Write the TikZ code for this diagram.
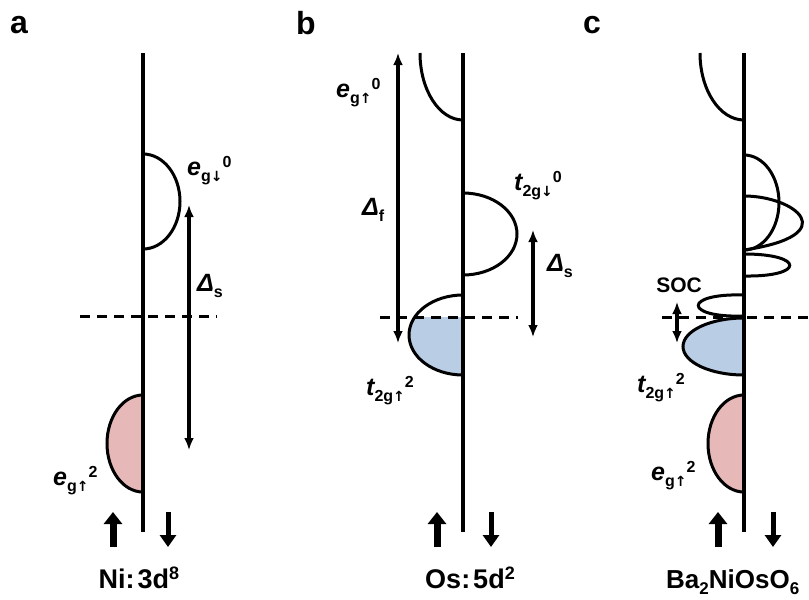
\documentclass[tikz,border=0pt]{standalone}
\usepackage{fontspec}
\setmainfont{Liberation Sans}
\newfontfamily\arrfont{DejaVu Sans}
\usetikzlibrary{arrows.meta}
\definecolor{pinkfill}{HTML}{E6B9B8}
\definecolor{bluefill}{HTML}{B9CDE5}
\newcommand{\sbx}[1]{\raisebox{-6pt}{\fontsize{16}{16}\selectfont\bfseries\upshape #1}}
\newcommand{\spx}[1]{\raisebox{8pt}{\fontsize{16}{16}\selectfont\bfseries\upshape #1}}
\newcommand{\ardn}{{\arrfont\bfseries\fontsize{14}{14}\selectfont ↓}}
\newcommand{\arup}{{\arrfont\bfseries\fontsize{14}{14}\selectfont ↑}}
\begin{document}
\begin{tikzpicture}[x=1pt,y=-1pt,
  axisline/.style={line width=4.5pt},
  band/.style={line width=3pt},
  gaparrow/.style={line width=3.5pt,{Latex[length=12pt,width=10pt]}-{Latex[length=12pt,width=10pt]}},
  fermi/.style={line width=3pt,dash pattern=on 10pt off 7pt},
  lab/.style={inner sep=0pt,anchor=base west,font=\fontsize{25}{25}\selectfont\bfseries\itshape},
  panel/.style={inner sep=0pt,font=\fontsize{32}{32}\selectfont\bfseries},
  title/.style={inner sep=0pt,anchor=base,font=\fontsize{27}{27}\selectfont\bfseries},
  spinup/.style={line width=7pt,-{Triangle[length=12pt,width=18pt]}},
  spindn/.style={line width=5pt,-{Triangle[length=12pt,width=16pt]}}]
\useasboundingbox (0,0) rectangle (809,600);
\clip (0,0) rectangle (809,600);
\fill[white] (0,0) rectangle (809,600);

% ---------------- panel a ----------------
\node[panel] (pa) at (19,25) {a};
\fill[pinkfill] (143,395) arc[start angle=270,end angle=90,x radius=36,y radius=48.5] -- cycle;
\draw[band] (143,395) arc[start angle=270,end angle=90,x radius=36,y radius=48.5];
\draw[band] (143,154) arc[start angle=-90,end angle=90,x radius=37,y radius=47.5];
\coordinate (fa1) at (80,316); \coordinate (fa2) at (217,316);
\draw[fermi] (fa1) -- (fa2);
\draw[axisline] (143,53) -- (143,532);
\coordinate (dsa1) at (189,205); \coordinate (dsa2) at (189,450);
\draw[gaparrow] (dsa1) -- (dsa2);
\node[lab] (la1) at (187,175) {e\sbx{g\ardn}\spx{0}};
\node[lab] (la2) at (197,291) {Δ\sbx{s}};
\node[lab] (la3) at (53,485) {e\sbx{g\arup}\spx{2}};
\coordinate (ua1) at (113,547); \coordinate (ua2) at (113,512);
\coordinate (da1) at (168,512); \coordinate (da2) at (168,547);
\draw[spinup] (ua1) -- (ua2);
\draw[spindn] (da1) -- (da2);
\node[title] (ta) at (139,588) {Ni:\hspace{3pt}3d\raisebox{9pt}{\fontsize{18}{18}\selectfont 8}};

% ---------------- panel b ----------------
\node[panel] (pb) at (306,23) {b};
\fill[white] (463,295) arc[start angle=270,end angle=90,x radius=54,y radius=40] -- cycle;
\begin{scope}
\clip (380,317) rectangle (470,400);
\fill[bluefill] (463,295) arc[start angle=270,end angle=90,x radius=54,y radius=40] -- cycle;
\end{scope}
\coordinate (fb1) at (380,317); \coordinate (fb2) at (518,317);
\draw[fermi] (fb1) -- (fb2);
\draw[band] (463,295) arc[start angle=270,end angle=90,x radius=54,y radius=40];
\draw[band] (463,193) arc[start angle=-90,end angle=90,x radius=54,y radius=41];
\draw[band] (420,53) arc[start angle=180,end angle=90,x radius=43,y radius=67];
\draw[axisline] (463,53) -- (463,532);
\coordinate (dfb1) at (398,53); \coordinate (dfb2) at (398,343);
\draw[gaparrow] (dfb1) -- (dfb2);
\coordinate (dsb1) at (533,230); \coordinate (dsb2) at (533,337);
\draw[gaparrow] (dsb1) -- (dsb2);
\node[lab] (lb1) at (336,97) {e\sbx{g\arup}\spx{0}};
\node[lab] (lb2) at (362,215) {Δ\sbx{f}};
\node[lab] (lb3) at (514,190) {t\sbx{2g\ardn}\spx{0}};
\node[lab] (lb4) at (547,271) {Δ\sbx{s}};
\node[lab] (lb5) at (366,395) {t\sbx{2g\arup}\spx{2}};
\coordinate (ub1) at (437,547); \coordinate (ub2) at (437,512);
\coordinate (db1) at (491,512); \coordinate (db2) at (491,547);
\draw[spinup] (ub1) -- (ub2);
\draw[spindn] (db1) -- (db2);
\node[title] (tb) at (470,588) {Os:\hspace{3pt}5d\raisebox{9pt}{\fontsize{18}{18}\selectfont 2}};

% ---------------- panel c ----------------
\node[panel] (pc) at (592,25) {c};
\fill[pinkfill] (744,395) arc[start angle=270,end angle=90,x radius=36,y radius=48.5] -- cycle;
\fill[bluefill] (744,318) arc[start angle=270,end angle=90,x radius=61,y radius=28.5] -- cycle;
\coordinate (fc1) at (662,317); \coordinate (fc2) at (815,317);
\draw[fermi] (fc1) -- (fc2);
\draw[band] (744,395) arc[start angle=270,end angle=90,x radius=36,y radius=48.5];
\draw[band] (744,318) arc[start angle=270,end angle=90,x radius=61,y radius=28.5];
\draw[band] (700,53) arc[start angle=180,end angle=90,x radius=44,y radius=67];
\draw[band] (744,155) arc[start angle=-90,end angle=90,x radius=35,y radius=47.5];
\draw[band] (744,196) .. controls (795,196) and (845,235) .. (744,250);
\draw[band] (744,254) .. controls (805,254) and (805,277) .. (744,276);
\draw[band] (744,295) .. controls (683,293) and (683,318) .. (744,316);
\draw[axisline] (744,53) -- (744,532);
\coordinate (soc1) at (677,302); \coordinate (soc2) at (677,343);
\draw[gaparrow] (soc1) -- (soc2);
\node[inner sep=0pt,font=\fontsize{21}{21}\selectfont\bfseries] (lsoc) at (679,285) {SOC};
\node[lab] (lc1) at (637,392) {t\sbx{2g\arup}\spx{2}};
\node[lab] (lc2) at (651,480) {e\sbx{g\arup}\spx{2}};
\coordinate (uc1) at (718,547); \coordinate (uc2) at (718,512);
\coordinate (dc1) at (773,512); \coordinate (dc2) at (773,547);
\draw[spinup] (uc1) -- (uc2);
\draw[spindn] (dc1) -- (dc2);
\node[title,anchor=base west,font=\fontsize{26}{26}\selectfont\bfseries] (tc) at (666,588) {Ba\raisebox{-6pt}{\fontsize{17}{17}\selectfont 2}NiOsO\raisebox{-6pt}{\fontsize{17}{17}\selectfont 6}};
\end{tikzpicture}
\end{document}
